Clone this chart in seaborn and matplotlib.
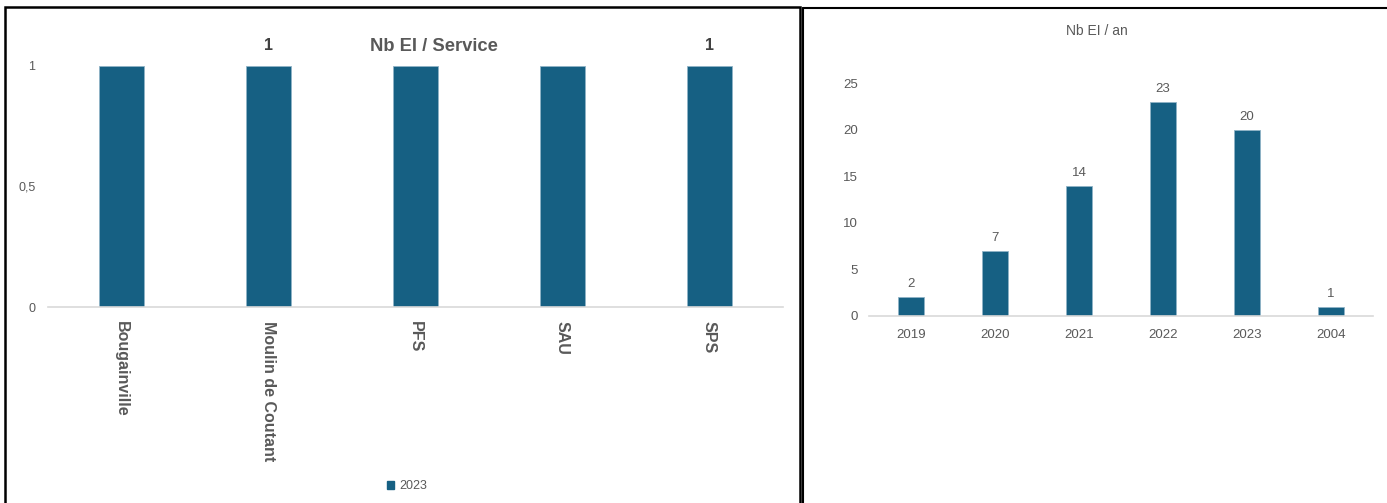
import matplotlib
matplotlib.use("Agg")
import matplotlib.pyplot as plt
import seaborn as sns
from matplotlib.patches import Patch, Rectangle
from matplotlib.lines import Line2D

# Data
services = ["Bougainville", "Moulin de Coutant", "PFS", "SAU", "SPS"]
service_counts = [1, 1, 1, 1, 1]
service_labels = ["", "1", "", "", "1"]
series_name = "2023"

years = ["2019", "2020", "2021", "2022", "2023", "2004"]
year_counts = [2, 7, 14, 23, 20, 1]

bar_color = "#166083"
text_gray = "#595959"
base_gray = "#d9d9d9"

sns.set_style("white")
plt.rcParams['font.family'] = ['Liberation Sans', 'DejaVu Sans']

fig = plt.figure(figsize=(13.87, 5.03), dpi=100)
W, H = 1387, 503

def px_axes(x0, x1, ytop, ybot):
    return fig.add_axes([x0 / W, 1 - ybot / H, (x1 - x0) / W, (ybot - ytop) / H])

# Left chart: Nb EI / Service
ax1 = px_axes(48, 783, 66, 307)
sns.barplot(x=services, y=service_counts, color=bar_color, width=0.31,
            edgecolor="#8fb3c6", linewidth=0.6, saturation=1, ax=ax1)
ax1.set_ylim(0, 1)
ax1.set_yticks([0, 0.5, 1])
ax1.set_yticklabels(["0", "0,5", "1"], color=text_gray, fontsize=9)
ax1.tick_params(axis="y", length=0, pad=9)
ax1.tick_params(axis="x", length=0, pad=10)
for lab in ax1.get_xticklabels():
    lab.set_rotation(-90)
    lab.set_fontweight("bold")
    lab.set_fontsize(11.5)
    lab.set_color(text_gray)
    lab.set_va("top")
    lab.set_ha("center")
ax1.bar_label(ax1.containers[0], labels=service_labels, padding=9,
              fontsize=11.5, fontweight="bold", color="#404040")
for s in ["top", "right", "left"]:
    ax1.spines[s].set_visible(False)
ax1.spines["bottom"].set_color(base_gray)
ax1.spines["bottom"].set_linewidth(1.2)
fig.text(434 / W, 1 - 46 / H, "Nb EI / Service", ha="center", va="center",
         fontsize=13.2, fontweight="bold", color=text_gray,
         family=['Liberation Sans Narrow', 'Liberation Sans', 'DejaVu Sans'])
fig.legend(handles=[Patch(color=bar_color, label=series_name)],
           loc="center", bbox_to_anchor=(407 / W, 1 - 486 / H), frameon=False,
           fontsize=9, handlelength=0.6, handleheight=0.6, handletextpad=0.4,
           labelcolor=text_gray)

# Right chart: Nb EI / an
ax2 = px_axes(869, 1373, 83, 316)
sns.barplot(x=years, y=year_counts, color=bar_color, width=0.31,
            edgecolor="#8fb3c6", linewidth=0.6, saturation=1, ax=ax2)
ax2.set_ylim(0, 25)
ax2.set_yticks([0, 5, 10, 15, 20, 25])
ax2.tick_params(axis="y", length=0, pad=8, labelsize=9.5, labelcolor=text_gray)
ax2.tick_params(axis="x", length=0, pad=9, labelsize=9.5, labelcolor=text_gray)
ax2.bar_label(ax2.containers[0], padding=5, fontsize=9.5, color=text_gray)
for s in ["top", "right", "left"]:
    ax2.spines[s].set_visible(False)
ax2.spines["bottom"].set_color(base_gray)
ax2.spines["bottom"].set_linewidth(1.2)
fig.text(1097 / W, 1 - 31 / H, "Nb EI / an", ha="center", va="center",
         fontsize=10, color=text_gray)

# Frames
fig.add_artist(Rectangle((5 / W, -0.05), (800 - 5) / W, 1.05 - 7 / H,
                         transform=fig.transFigure, fill=False,
                         edgecolor="black", linewidth=1.8))
fig.add_artist(Line2D([803 / W, 803 / W], [0, 1 - 8 / H],
                      transform=fig.transFigure, color="black", linewidth=1.5))
fig.add_artist(Line2D([803 / W, 1], [1 - 8 / H, 1 - 8 / H],
                      transform=fig.transFigure, color="black", linewidth=1.5))

fig.savefig("out.png", dpi=100)
